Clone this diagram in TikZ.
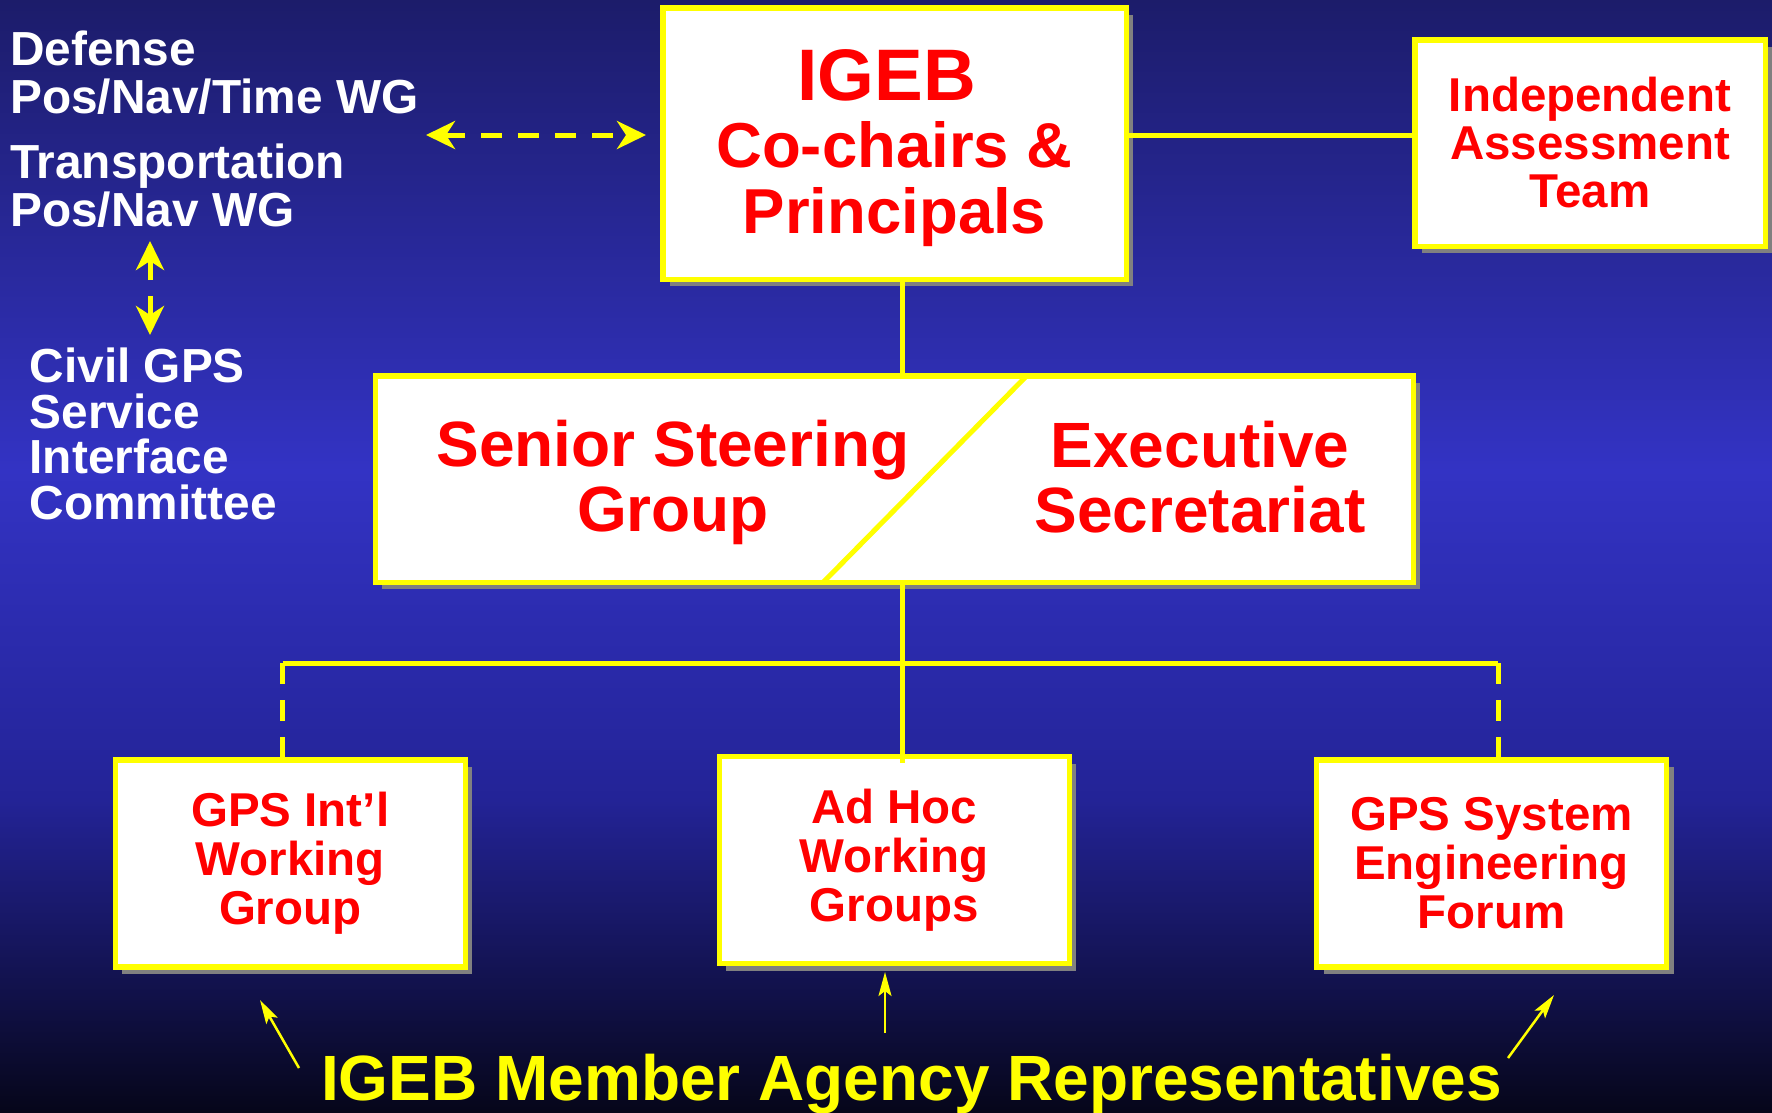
\documentclass[tikz,border=0pt]{standalone}
\usepackage{fontspec}
\setmainfont{Liberation Sans}
\usetikzlibrary{arrows.meta,shadows}

\definecolor{bgtop}{RGB}{28,28,106}
\definecolor{bgmid}{RGB}{51,51,196}
\definecolor{bglow}{RGB}{35,35,150}
\definecolor{bgbot}{RGB}{6,6,26}
\definecolor{ylw}{RGB}{255,255,0}
\definecolor{rd}{RGB}{255,0,0}
\definecolor{shd}{RGB}{128,128,128}

\begin{document}
\begin{tikzpicture}[x=1pt,y=-1pt,
  orgbox/.style={draw=ylw, line width=5.5pt, fill=white, inner sep=0pt,
    text=rd, align=center, font=\fontsize{63.5}{66.5}\selectfont\bfseries,
    drop shadow={shadow xshift=7pt, shadow yshift=-7pt, fill=shd, opacity=1}},
  smallbox/.style={orgbox, minimum width=350pt, minimum height=207pt,
    font=\fontsize{47.5}{49}\selectfont\bfseries},
  boxtext/.style={inner sep=0pt, text=rd, align=center,
    font=\fontsize{64}{65}\selectfont\bfseries},
  wgtext/.style={inner sep=0pt, text=white, align=left, anchor=north west,
    font=\fontsize{47.8}{48}\selectfont\bfseries},
  link/.style={draw=ylw, line width=5pt},
  bigtip/.style={ylw, line width=5pt},
  thintip/.style={ylw, line width=2.5pt, -{Stealth[length=24pt,width=13pt,inset=5pt]}}
]
\useasboundingbox (0,0) rectangle (1772,1112);

% background
\shade[top color=bgtop, bottom color=bgmid] (0,0) rectangle (1772,471);
\shade[top color=bgmid, bottom color=bglow] (0,470) rectangle (1772,801);
\shade[top color=bglow, bottom color=bgbot] (0,800) rectangle (1772,1112);

% boxes
\node[orgbox, minimum width=463.5pt, minimum height=271.5pt] (igeb) at (894.5,143.5)
  {\rule{0pt}{61pt}{\fontsize{73}{66.5}\selectfont IGEB}\rule{16pt}{0pt}\\Co-chairs \&\\Principals};
\node[orgbox, minimum width=350.5pt, minimum height=206.5pt,
  font=\fontsize{47.5}{48}\selectfont\bfseries] (iat) at (1590,143)
  {Independent\\Assessment\\Team};
\node[orgbox, minimum width=1038pt, minimum height=206.5pt] (ssg) at (894.25,479) {};
\draw[ylw, line width=5pt] (1027,375.5) -- (823,582.5);
\node[boxtext] (ssgtxt) at (673,482.8) {Senior Steering\\Group};
\node[boxtext] (exectxt) at (1200,477) {Executive\\Secretariat};

\node[smallbox] (gpsintl) at (290.25,863.5) {GPS Int’l\\Working\\Group};
\node[smallbox] (adhoc) at (894.25,860) {Ad Hoc\\Working\\Groups};
\node[smallbox] (gpssef) at (1491.5,863.5) {GPS System\\Engineering\\Forum};

% connectors
\coordinate (lvl) at (0,135);
\coordinate (hub) at (902,663);
\coordinate (jl) at (282.5,663);
\coordinate (jr) at (1498,663);
\draw[link] (igeb.east |- lvl) -- (iat.west |- lvl);
\draw[link] (igeb.south -| hub) -- (ssg.north -| hub);
\draw[link] (ssg.south -| hub) -- (hub);
\draw[link] (jl) -- (jr);
\draw[link] (hub) -- ([yshift=-9pt]adhoc.north -| hub);
\draw[link, dash pattern=on 21pt off 16pt] (jl) -- (gpsintl.north -| jl);
\draw[link, dash pattern=on 21pt off 16pt] (jr) -- (gpssef.north -| jr);

% working groups on the left
\node[wgtext] (dpnt) at (10,30.6) {Defense\\Pos/Nav/Time WG};
\node[wgtext] (tpn) at (10,143.3) {Transportation\\Pos/Nav WG};
\node[wgtext, font=\fontsize{47.8}{45.7}\selectfont\bfseries] (cgsic) at (29.5,347.7)
  {Civil GPS\\Service\\Interface\\Committee};

\coordinate (wgl) at (426,135);
\coordinate (wgr) at (646,135);
\draw[bigtip, dash pattern=on 21pt off 16pt,
  {Stealth[length=29pt,width=28pt,inset=9pt]}-{Stealth[length=29pt,width=28pt,inset=9pt]}]
  (wgl) -- (wgr);

\coordinate (vu0) at (150,280);
\coordinate (vu1) at (150,241);
\coordinate (vd0) at (150,296);
\coordinate (vd1) at (150,335);
\draw[bigtip, -{Stealth[length=29pt,width=28pt,inset=9pt]}] (vu0) -- (vu1);
\draw[bigtip, -{Stealth[length=29pt,width=28pt,inset=9pt]}] (vd0) -- (vd1);

% member agency representatives
\node[anchor=base, inner sep=0pt, text=ylw, font=\fontsize{64}{70}\selectfont\bfseries]
  (reps) at (911.5,1100) {IGEB Member Agency Representatives};
\coordinate (r1s) at (299,1068);
\coordinate (r1e) at (260,1000);
\coordinate (r2s) at (885,1033);
\coordinate (r2e) at (885,972);
\coordinate (r3s) at (1508,1058);
\coordinate (r3e) at (1554,995);
\draw[thintip] (r1s) -- (r1e);
\draw[thintip] (r2s) -- (r2e);
\draw[thintip] (r3s) -- (r3e);
\end{tikzpicture}
\end{document}
